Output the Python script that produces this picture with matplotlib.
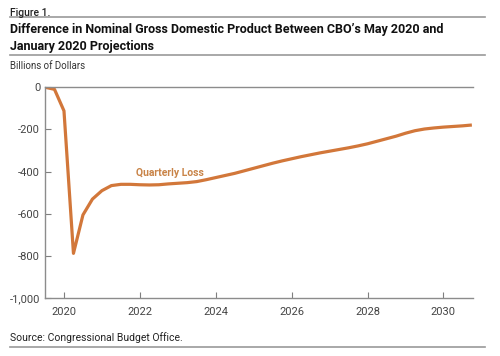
import numpy as np
import matplotlib.pyplot as plt

plt.rcParams['font.family'] = ['Roboto', 'DejaVu Sans']

# quarterly, starting 2019 Q3
start_year = 2019.5
loss = [0, -10, -112, -787, -605, -530, -490, -466, -460, -460,
        -462, -463, -462, -458, -455, -452, -447, -438, -428, -418,
        -408, -396, -384, -372, -360, -349, -339, -329, -320, -311,
        -303, -295, -287, -278, -268, -256, -244, -232, -218, -206,
        -198, -193, -189, -186, -183, -179]
x_ticks = [2020, 2022, 2024, 2026, 2028, 2030]
y_ticks = [0, -200, -400, -600, -800, -1000]
y_labels = ['0', '-200', '-400', '-600', '-800', '-1,000']

quarters = start_year + 0.25 * np.arange(len(loss))

orange = '#d2773a'
gray = '#7f7f7f'

fig = plt.figure(figsize=(5, 3.56), dpi=100)
ax = fig.add_axes([0.09, 0.162, 0.856, 0.593])

ax.plot(quarters, loss, color=orange, lw=2.3, solid_capstyle='butt')
ax.text(2022.8, -405, 'Quarterly Loss', color='#c98448', fontsize=7.5,
        fontweight='bold', ha='center', va='center')

ax.set_xlim(2019.5, 2030.78)
ax.set_ylim(-1000, 0)
ax.set_xticks(x_ticks)
ax.set_yticks(y_ticks)
ax.set_yticklabels(y_labels)
ax.tick_params(direction='in', length=4, width=0.8, colors=gray,
               labelcolor='#444444', labelsize=8)
ax.tick_params(axis='x', pad=6)
ax.spines['right'].set_visible(False)
for s in ['left', 'bottom', 'top']:
    ax.spines[s].set_color('#8c8c8c')
    ax.spines[s].set_linewidth(1)

# header and footer
fig.text(0.02, 0.978, 'Figure 1.', fontsize=7.5, va='top', color='#222222',
         fontweight='medium')
fig.add_artist(plt.Line2D([0.02, 0.97], [0.952, 0.952], color='#999999', lw=1.2))
fig.text(0.02, 0.935, "Difference in Nominal Gross Domestic Product Between CBO\u2019s May 2020 and\nJanuary 2020 Projections",
         fontsize=9, fontweight='bold', va='top', linespacing=1.35, color='#111111')
fig.add_artist(plt.Line2D([0.02, 0.97], [0.845, 0.845], color='#999999', lw=1.2))
fig.text(0.02, 0.83, 'Billions of Dollars', fontsize=7, va='top', color='#333333')
fig.text(0.02, 0.052, 'Source: Congressional Budget Office.', fontsize=7.5,
         va='center', color='#222222')
fig.add_artist(plt.Line2D([0.02, 0.97], [0.025, 0.025], color='#999999', lw=1.2))

fig.savefig('out.png', dpi=100)
